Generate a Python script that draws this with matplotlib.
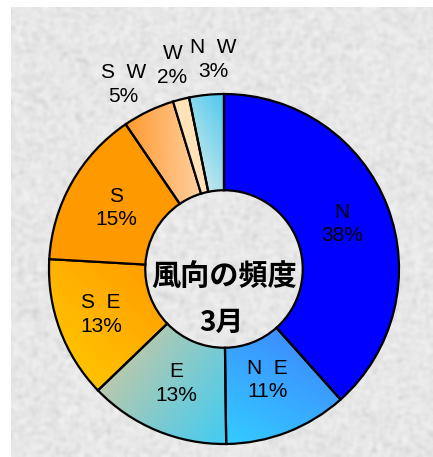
import numpy as np
import matplotlib
matplotlib.use('Agg')
import matplotlib.pyplot as plt
from matplotlib.colors import LinearSegmentedColormap

# ── datos (3月 風向の頻度, %) ───────────────────────────────────────────────
directions = ['N', 'N  E', 'E', 'S  E', 'S', 'S  W', 'W', 'N  W']
freq = [38.4, 11.4, 13.0, 13.1, 14.6, 4.8, 1.5, 3.2]
pct_labels = ['38%', '11%', '13%', '13%', '15%', '5%', '2%', '3%']

# ── estilo ──────────────────────────────────────────────────────────────────
base_colors = ['#0000FF', '#3FA8FF', '#9CCBD0', '#FFB000',
               '#FF9900', '#FFB070', '#FFE2B8', '#A8DDEE']
# (color inicio, color fin, dirección del degradado en grados)
gradients = {
    1: ('#33CCFF', '#3F7FFF', 60),
    2: ('#DCC898', '#40CCF4', -35),
    3: ('#FFCC00', '#FF9900', 45),
    5: ('#FF9A30', '#FFD0A0', 0),
    7: ('#E0F0E8', '#50C8F0', 30),
}
label_r = [0.72, 0.68, 0.71, 0.75, 0.71, 1.2, 1.2, 1.2]
label_da = [0, 0, 0, 0, 0, 3, 0, -2.8]   # ajuste angular de etiquetas

W, H = 433, 457
fig = plt.figure(figsize=(W / 100, H / 100), dpi=100)
fig.patch.set_facecolor('white')

# fondo tipo granito
bg = fig.add_axes([11 / W, 0, (W - 11) / W, (H - 7) / H])
rng = np.random.default_rng(7)
tex = rng.random((225, 211))
tex = (tex + np.roll(tex, 1, 0) + np.roll(tex, -1, 0)
       + np.roll(tex, 1, 1) + np.roll(tex, -1, 1)) / 5
tex = (tex - tex.min()) / (tex.max() - tex.min())
g = 0.76 + 0.20 * tex ** 0.45
rgb = np.dstack([g, g, g])
bg.imshow(rgb, aspect='auto', interpolation='bicubic')
bg.axis('off')

# donut
cx, cy, R = 224, 269, 175
ax = fig.add_axes([(cx - R) / W, (H - cy - R) / H, 2 * R / W, 2 * R / H])
ax.patch.set_alpha(0)
wedges, _ = ax.pie(freq, colors=base_colors, startangle=90, counterclock=False,
                   radius=1,
                   wedgeprops=dict(width=0.55, edgecolor='black', linewidth=1.6))

for i, w in enumerate(wedges):
    w.set_zorder(3)
    if i not in gradients:
        continue
    c1, c2, ang = gradients[i]
    th = np.radians(np.linspace(w.theta1, w.theta2, 60))
    xs = np.concatenate([np.cos(th), 0.45 * np.cos(th)])
    ys = np.concatenate([np.sin(th), 0.45 * np.sin(th)])
    x0, x1, y0, y1 = xs.min(), xs.max(), ys.min(), ys.max()
    gx, gy = np.meshgrid(np.linspace(x0, x1, 100), np.linspace(y0, y1, 100))
    a = np.radians(ang)
    t = gx * np.cos(a) + gy * np.sin(a)
    t = (t - t.min()) / (t.max() - t.min())
    cmap = LinearSegmentedColormap.from_list(f'g{i}', [c1, c2])
    im = ax.imshow(t, cmap=cmap, extent=(x0, x1, y0, y1), origin='lower',
                   zorder=2, interpolation='bilinear')
    im.set_clip_path(w)
    w.set_facecolor('none')

for i, w in enumerate(wedges):
    mid = np.radians((w.theta1 + w.theta2) / 2 + label_da[i])
    r = label_r[i]
    ax.text(r * np.cos(mid), r * np.sin(mid), f'{directions[i]}\n{pct_labels[i]}',
            ha='center', va='center', fontsize=15, family='Liberation Sans',
            linespacing=1.3, color='black', zorder=5)

ax.text(0, -0.046, '風向の頻度', ha='center', va='center', fontsize=21,
        fontweight='bold', family=['Noto Sans CJK JP', 'DejaVu Sans'], zorder=5)
ax.text(-0.017, -0.309, '3月', ha='center', va='center', fontsize=20,
        fontweight='bold', family=['Noto Sans CJK JP', 'DejaVu Sans'], zorder=5)

ax.set_xlim(-1, 1)
ax.set_ylim(-1, 1)
ax.set_aspect('equal')
ax.axis('off')

fig.savefig('out.png', dpi=100, facecolor='white')
